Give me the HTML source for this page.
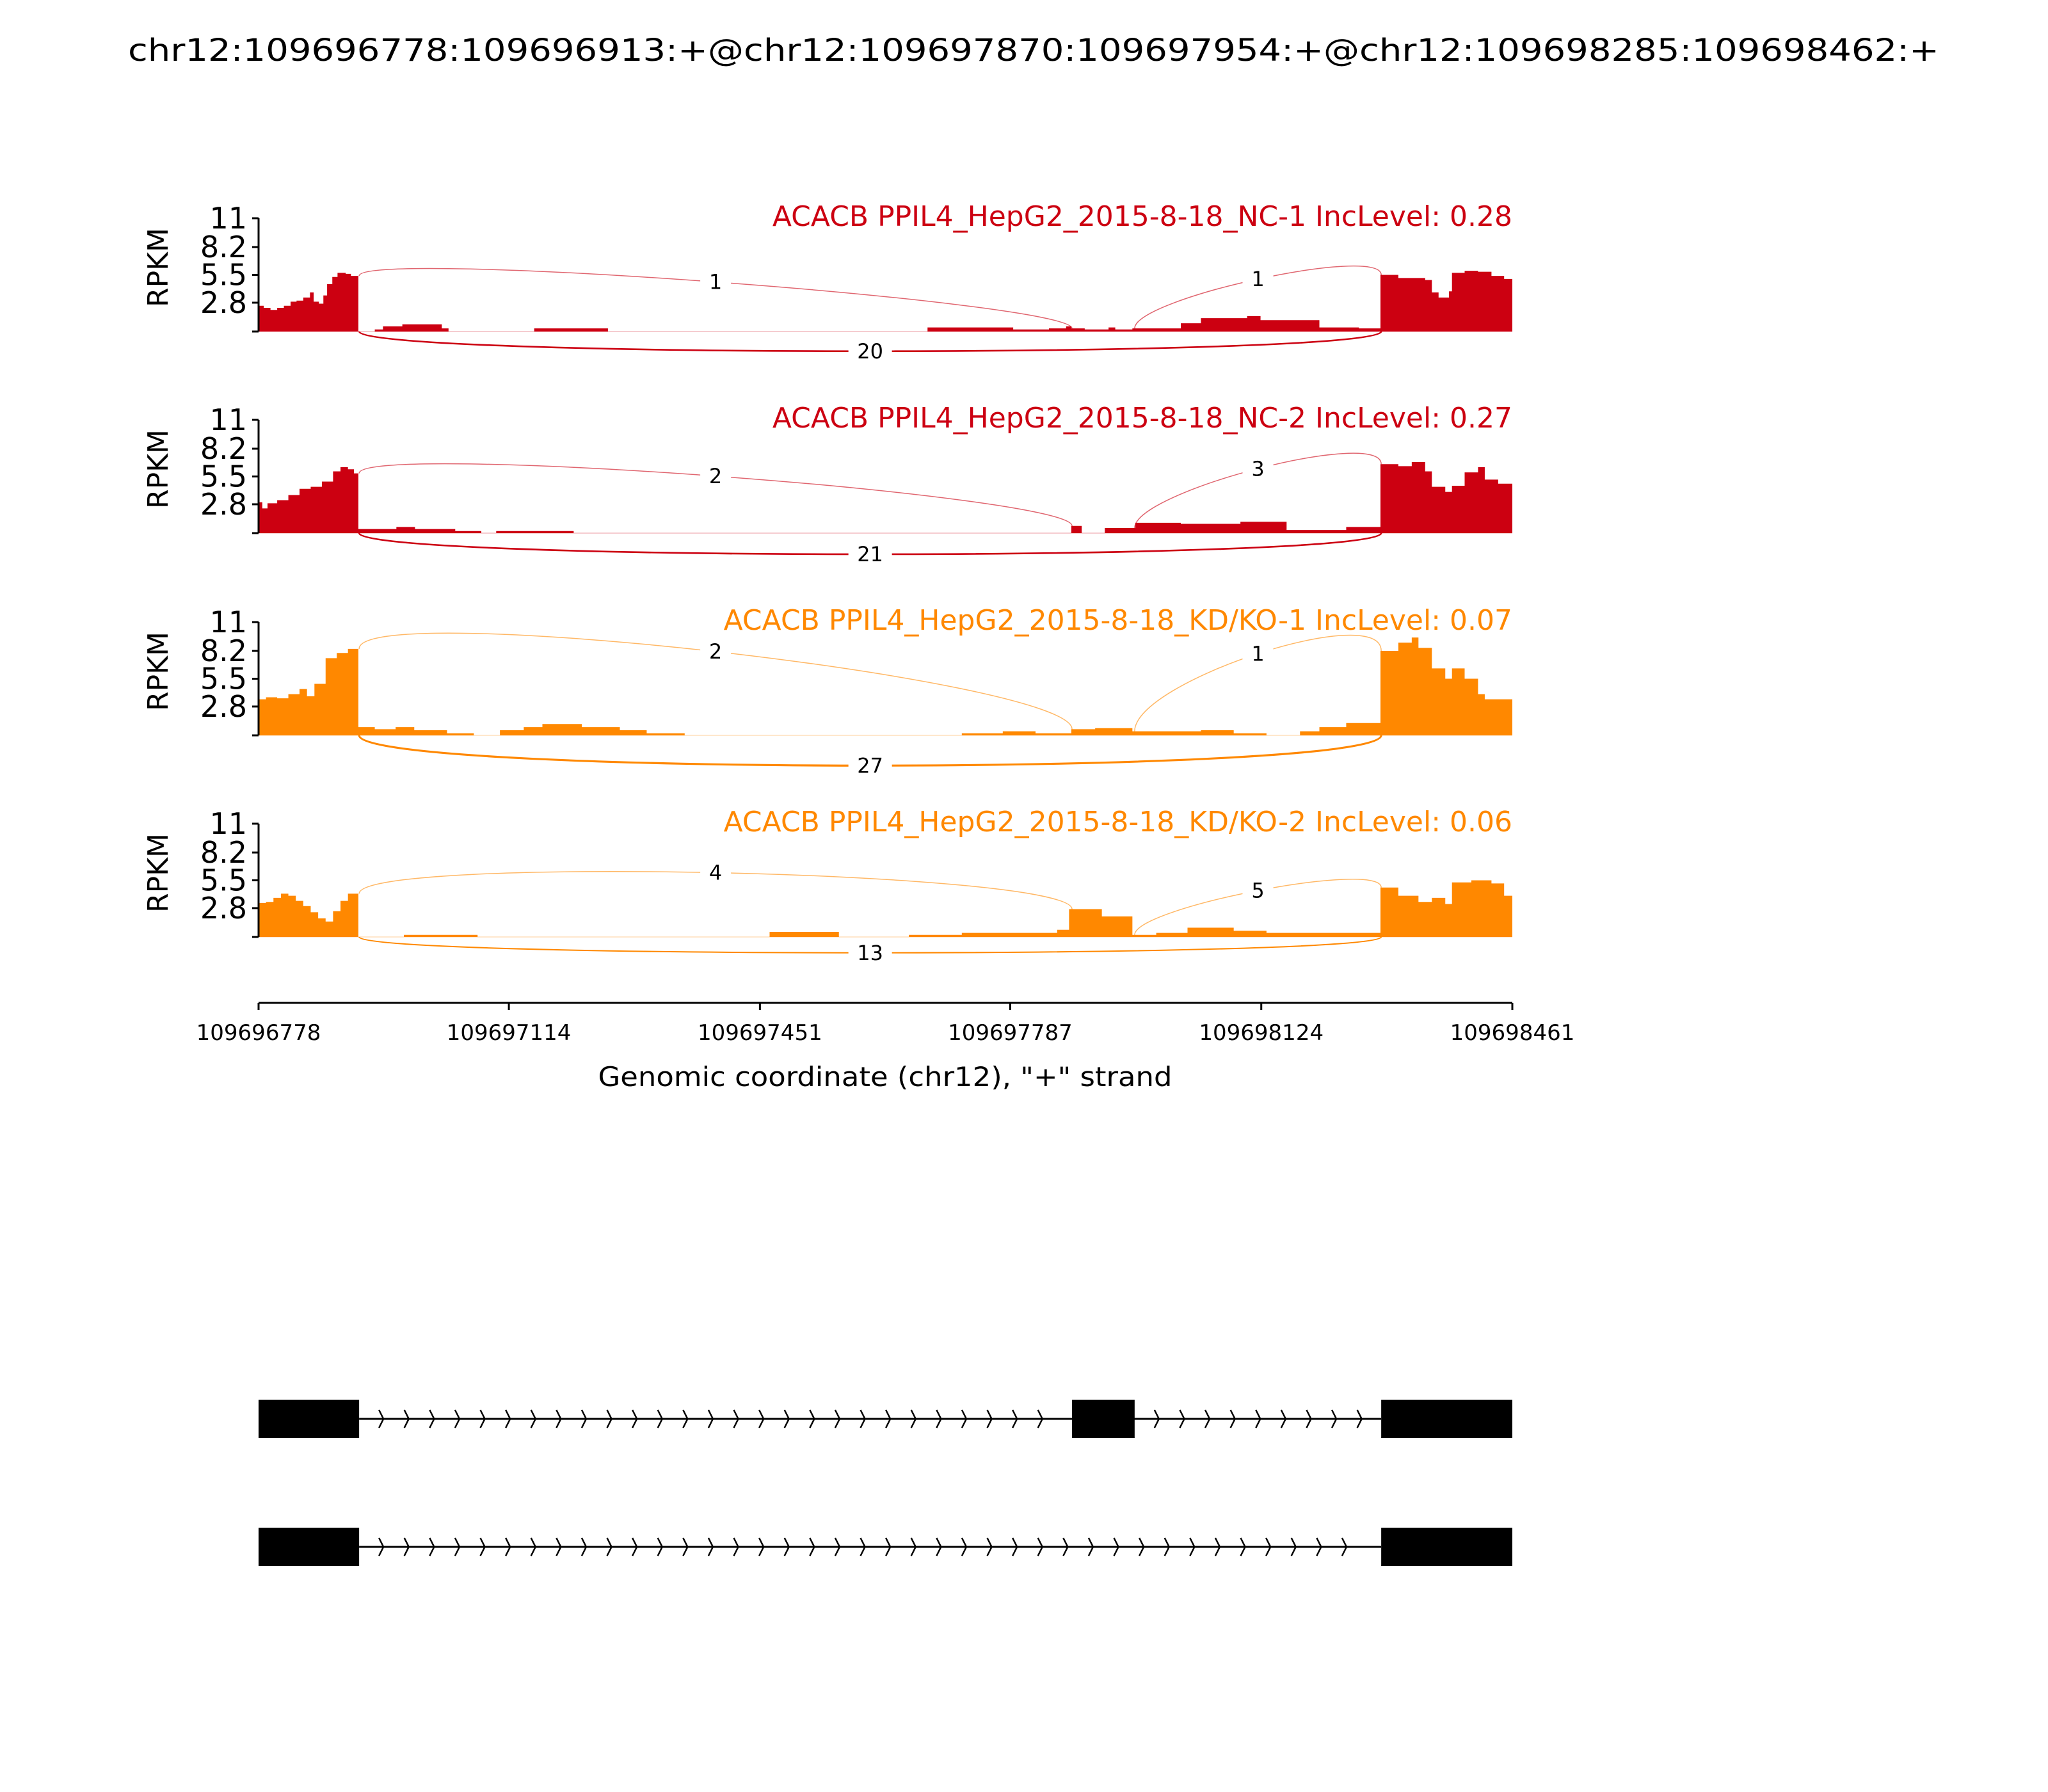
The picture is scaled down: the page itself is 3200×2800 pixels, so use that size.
<!DOCTYPE html>
<html><head><meta charset="utf-8"><style>
html,body{margin:0;padding:0;background:#fff;}
svg{display:block;font-family:"DejaVu Sans","Liberation Sans",sans-serif;}
</style></head><body>
<svg id="chart" width="3200" height="2800" viewBox="0 0 3200 2800" xmlns="http://www.w3.org/2000/svg">
<rect x="0" y="0" width="3200" height="2800" fill="#fff"/>
<text x="1615" y="95" font-size="48" text-anchor="middle" textLength="2830" lengthAdjust="spacingAndGlyphs">chr12:109696778:109696913:+@chr12:109697870:109697954:+@chr12:109698285:109698462:+</text>
<g id="panels"></g>
<g id="xaxis"></g>
<g id="genes"></g>
</svg>
<script>
// ---- data ----
const regionStart = 109696778;
const regionSpan = 1683;
const xTickLabels = ["109696778","109697114","109697451","109697787","109698124","109698461"];
const yTickValues = [2.8, 5.5, 8.2, 11];
const yTickLabels = ["2.8","5.5","8.2","11"];
const yMax = 11;
const sampleTitles = ["ACACB PPIL4_HepG2_2015-8-18_NC-1 IncLevel: 0.28","ACACB PPIL4_HepG2_2015-8-18_NC-2 IncLevel: 0.27","ACACB PPIL4_HepG2_2015-8-18_KD/KO-1 IncLevel: 0.07","ACACB PPIL4_HepG2_2015-8-18_KD/KO-2 IncLevel: 0.06"];
const sampleColors = ["#CC0011","#CC0011","#FF8800","#FF8800"];
// exon offsets (bp from region start)
const exon1 = [0, 135];
const exon2 = [1092, 1176];
const exon3 = [1507, 1684];
// coverage: step positions (bp offset) and RPKM values
const cov1Pos = [0,7,16,25,34,43,51,60,69,74,81,87,92,99,106,117,124,134,156,167,193,246,255,370,469,898,1013,1061,1084,1091,1109,1141,1150,1173,1238,1265,1327,1345,1362,1424,1477,1506,1530,1566,1575,1584,1598,1602,1619,1637,1655,1672,1683];
const cov1Val = [2.5,2.3,2.1,2.3,2.5,2.9,3.0,3.3,3.8,2.9,2.7,3.5,4.6,5.3,5.7,5.6,5.4,0,0.2,0.5,0.7,0.3,0,0.3,0,0.4,0.2,0.3,0.5,0.3,0.2,0.4,0.2,0.3,0.8,1.3,1.5,1.1,1.1,0.4,0.3,5.5,5.2,5.0,3.8,3.3,3.9,5.7,5.9,5.8,5.4,5.1,0];
const cov2Pos = [0,5,12,25,40,55,70,85,100,110,120,128,134,185,210,264,299,319,423,1091,1105,1136,1177,1238,1318,1380,1460,1506,1530,1548,1566,1575,1593,1602,1619,1637,1646,1664,1683];
const cov2Val = [3.0,2.4,2.9,3.2,3.7,4.3,4.5,5.0,6.0,6.4,6.2,5.8,0.4,0.6,0.4,0.2,0,0.2,0,0.7,0,0.5,1.0,0.9,1.1,0.3,0.6,6.7,6.5,6.9,6.0,4.5,4.0,4.6,5.9,6.4,5.2,4.8,0];
const cov3Pos = [0,10,25,40,55,65,75,90,105,120,134,156,184,209,253,289,324,356,381,434,485,521,572,944,999,1043,1091,1123,1173,1265,1309,1353,1398,1424,1460,1506,1530,1548,1557,1575,1593,1602,1619,1637,1646,1683];
const cov3Val = [3.5,3.7,3.6,4.0,4.5,3.8,5.0,7.5,8.0,8.4,0.8,0.6,0.8,0.5,0.2,0,0.5,0.8,1.1,0.8,0.5,0.2,0,0.2,0.4,0.2,0.6,0.7,0.4,0.5,0.2,0,0.4,0.8,1.2,8.2,9.0,9.5,8.5,6.5,5.5,6.5,5.5,4.0,3.5,0];
const cov4Pos = [0,10,20,30,40,50,60,70,80,90,100,110,120,134,195,294,686,779,873,944,1072,1088,1132,1173,1205,1247,1309,1353,1506,1530,1557,1575,1593,1602,1628,1655,1672,1683];
const cov4Val = [3.3,3.4,3.8,4.2,4.0,3.5,3.0,2.4,1.8,1.5,2.5,3.5,4.2,0,0.2,0,0.5,0,0.2,0.4,0.7,2.7,2.0,0.2,0.4,0.9,0.6,0.4,4.8,4.0,3.4,3.8,3.2,5.3,5.5,5.2,4.0,0];
const covPos = [cov1Pos, cov2Pos, cov3Pos, cov4Pos];
const covVal = [cov1Val, cov2Val, cov3Val, cov4Val];
// junction read counts
const incCountLeft = [1, 2, 2, 4];
const incCountRight = [1, 3, 1, 5];
const skipCount = [20, 21, 27, 13];

// ---- layout ----
const plotL = 404, plotR = 2363;
const panelBase = [518, 833, 1149, 1464];
const panelH = 177;
const arcHLeft = [42, 49, 78, 60];
const arcHRight = [47, 57, 78, 43];
const arcHBelow = [41, 44, 63, 33];
const NS = "http://www.w3.org/2000/svg";
function X(off){ return plotL + off / regionSpan * (plotR - plotL); }
function Y(v, p){ return panelBase[p] - v / yMax * panelH; }
function mk(tag, attrs, parent){ const e = document.createElementNS(NS, tag); for (const k in attrs) e.setAttribute(k, attrs[k]); parent.appendChild(e); return e; }
function covAt(p, off){ const ps = covPos[p], vs = covVal[p]; let v = 0; for (let i = 0; i < ps.length; i++){ if (ps[i] <= off) v = vs[i]; } return v; }
function bez(p0,p1,p2,p3,t){ const u=1-t; return u*u*u*p0+3*u*u*t*p1+3*u*t*t*p2+t*t*t*p3; }

const panels = document.getElementById('panels');
for (let p = 0; p < 4; p++){
  const g = mk('g', {}, panels);
  
  
  const col = sampleColors[p];
  const ps = covPos[p], vs = covVal[p];
  let d = 'M' + X(ps[0]) + ',' + panelBase[p];
  for (let i = 0; i < ps.length; i++){
    const x = X(ps[i]);
    d += ' L' + x + ',' + Y(i > 0 ? vs[i-1] : 0, p) + ' L' + x + ',' + Y(vs[i], p);
  }
  d += ' L' + X(ps[ps.length-1]) + ',' + panelBase[p] + ' Z';
  const area = mk('path', {d: d, fill: col, stroke: 'none'}, g);
  
  
  const bl = mk('line', {x1: plotL, x2: plotR, y1: panelBase[p], y2: panelBase[p], stroke: col, 'stroke-width': 1, 'stroke-opacity': 0.4}, g);
  
  
  const ya = mk('line', {x1: plotL, x2: plotL, y1: Y(yMax,p), y2: panelBase[p], stroke: '#000', 'stroke-width': 3}, g);
  
  
  const t0 = mk('line', {x1: plotL-10, x2: plotL, y1: panelBase[p], y2: panelBase[p], stroke: '#000', 'stroke-width': 3}, g);
  
  
  for (let i = 0; i < yTickValues.length; i++){
    const y = Y(yTickValues[i], p);
    const tk = mk('line', {x1: plotL-10, x2: plotL, y1: y, y2: y, stroke: '#000', 'stroke-width': 3}, g);
    
    
    const tl = mk('text', {x: plotL-18, y: y+16, 'font-size': 46, 'text-anchor': 'end'}, g);
    tl.textContent = yTickLabels[i];
    
    
  }
  const yl = mk('text', {x: 0, y: 0, 'font-size': 44, 'text-anchor': 'middle', transform: 'translate(262,' + (panelBase[p]-100) + ') rotate(-90)'}, g);
  yl.textContent = 'RPKM';
  
  
  const st = mk('text', {x: plotR, y: panelBase[p]-panelH+12, 'font-size': 44, 'text-anchor': 'end', fill: col}, g);
  st.textContent = sampleTitles[p];
  
  
  const juncs = [
    {a: exon1[1]-2, b: exon2[0], c: incCountLeft[p], above: true, h: arcHLeft[p]},
    {a: exon2[1]-2, b: exon3[0], c: incCountRight[p], above: true, h: arcHRight[p]},
    {a: exon1[1]-2, b: exon3[0], c: skipCount[p], above: false, h: arcHBelow[p]}
  ];
  juncs.forEach(function(j){
    const x0 = X(j.a+2), x3 = X(j.b);
    let y0, y3, y1, y2;
    if (j.above){ y0 = Y(covAt(p, j.a), p); y3 = Y(covAt(p, j.b), p); y1 = y0 - j.h; y2 = y3 - j.h; }
    else { y0 = panelBase[p]; y3 = panelBase[p]; y1 = y0 + j.h; y2 = y3 + j.h; }
    const arc = mk('path', {d: 'M'+x0+','+y0+' C'+x0+','+y1+' '+x3+','+y2+' '+x3+','+y3, fill: 'none', stroke: col, 'stroke-width': j.above ? 1.5 : (1 + j.c*0.08), 'stroke-opacity': j.above ? 0.6 : 1}, g);
    
    
    const lx = bez(x0,x0,x3,x3,0.5), ly = bez(y0,y1,y2,y3,0.5);
    const s = String(j.c);
    const bg = mk('rect', {x: lx - s.length*10 - 14, y: ly - 18, width: s.length*20 + 28, height: 36, fill: '#fff'}, g);
    
    
    const lt = mk('text', {x: lx, y: ly + 11, 'font-size': 32, 'text-anchor': 'middle'}, g);
    lt.textContent = s;
    
    
  });
}

const xa = document.getElementById('xaxis');
const axY = 1567;
const axl = mk('line', {x1: plotL, x2: plotR, y1: axY, y2: axY, stroke: '#000', 'stroke-width': 3}, xa);


for (let i = 0; i < xTickLabels.length; i++){
  const x = X(Number(xTickLabels[i]) - regionStart);
  const tk = mk('line', {x1: x, x2: x, y1: axY, y2: axY+11, stroke: '#000', 'stroke-width': 3}, xa);
  
  
  const tl = mk('text', {x: x, y: axY+58, 'font-size': 34, 'text-anchor': 'middle'}, xa);
  tl.textContent = xTickLabels[i];
  
  
}
const xt = mk('text', {x: 1383, y: 1697, 'font-size': 42, 'text-anchor': 'middle', textLength: 897, lengthAdjust: 'spacingAndGlyphs'}, xa);
xt.textContent = 'Genomic coordinate (chr12), "+" strand';



const genes = document.getElementById('genes');
const isoformExons = [[exon1, exon2, exon3], [exon1, exon3]];
const trackY = [2217, 2417];
for (let t = 0; t < 2; t++){
  const g = mk('g', {}, genes);
  
  
  const ex = isoformExons[t];
  const ty = trackY[t];
  const ln = mk('line', {x1: X(ex[0][1]), x2: X(ex[ex.length-1][0]), y1: ty, y2: ty, stroke: '#000', 'stroke-width': 3}, g);
  
  
  for (let k = 0; k < ex.length - 1; k++){
    const s = X(ex[k][1]), e = X(ex[k+1][0]);
    for (let ax = s + 38; ax < e - 15; ax += 39.6){
      const ch = mk('path', {d: 'M'+(ax-7)+','+(ty-14)+' L'+ax+','+ty+' L'+(ax-7)+','+(ty+14), fill: 'none', stroke: '#000', 'stroke-width': 2.5}, g);
      
      
    }
  }
  for (let k = 0; k < ex.length; k++){
    const bx = mk('rect', {x: X(ex[k][0]), y: ty-30, width: Math.min(X(ex[k][1]), plotR) - X(ex[k][0]), height: 60, fill: '#000'}, g);
    
    
  }
}
</script>
</body></html>
